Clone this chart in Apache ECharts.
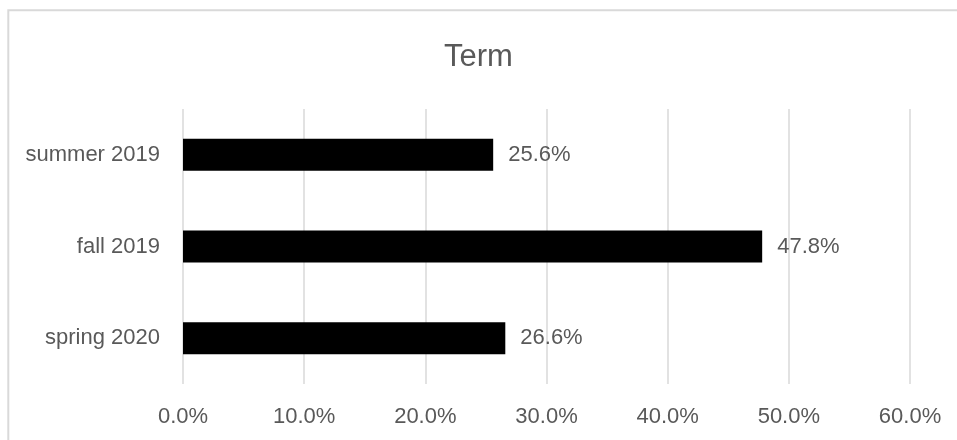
<!DOCTYPE html>
<html>
<head>
<meta charset="utf-8">
<script src="https://cdn.jsdelivr.net/npm/echarts@6/dist/echarts.min.js"></script>
<style>
html,body{margin:0;padding:0;background:#fff;}
#chart{width:957px;height:440px;}
</style>
</head>
<body>
<div id="chart"></div>
<script>
const titleText = 'Term';
const categories = ['summer 2019', 'fall 2019', 'spring 2020'];
const values = [25.6, 47.8, 26.6];
const axisMax = 60;
const axisInterval = 10;

const chart = echarts.init(document.getElementById('chart'), null, {renderer: 'canvas'});
const font = '"Liberation Sans", Arial, sans-serif';
chart.setOption({
  backgroundColor: '#fff',
  animation: false,
  graphic: [{
    type: 'rect',
    shape: {x: 8.3, y: 10.3, width: 2000, height: 2000},
    style: {fill: 'none', stroke: '#d9d9d9', lineWidth: 2},
    silent: true,
    z: -1
  }],
  title: {
    text: titleText,
    left: 'center',
    top: 37,
    textStyle: {fontFamily: font, fontSize: 31, fontWeight: 'normal', color: '#595959'}
  },
  grid: {left: 183, right: 47, top: 109, bottom: 56, containLabel: false},
  xAxis: {
    type: 'value',
    min: 0,
    max: axisMax,
    interval: axisInterval,
    axisLine: {show: false},
    axisTick: {show: false},
    splitLine: {show: true, lineStyle: {color: '#d9d9d9', width: 1.5}},
    axisLabel: {
      fontFamily: font, fontSize: 22, color: '#595959', margin: 22,
      formatter: v => v.toFixed(1) + '%'
    }
  },
  yAxis: {
    type: 'category',
    data: categories,
    inverse: true,
    axisLine: {show: false},
    axisTick: {show: false},
    splitLine: {show: false},
    axisLabel: {fontFamily: font, fontSize: 22, color: '#595959', margin: 23}
  },
  series: [{
    type: 'bar',
    data: values,
    barWidth: 32,
    itemStyle: {color: '#000000'},
    label: {
      show: true,
      position: 'right',
      distance: 15,
      fontFamily: font,
      fontSize: 22,
      color: '#595959',
      padding: [3, 0, 0, 0],
      formatter: p => p.value.toFixed(1) + '%'
    }
  }]
});
</script>
</body>
</html>
